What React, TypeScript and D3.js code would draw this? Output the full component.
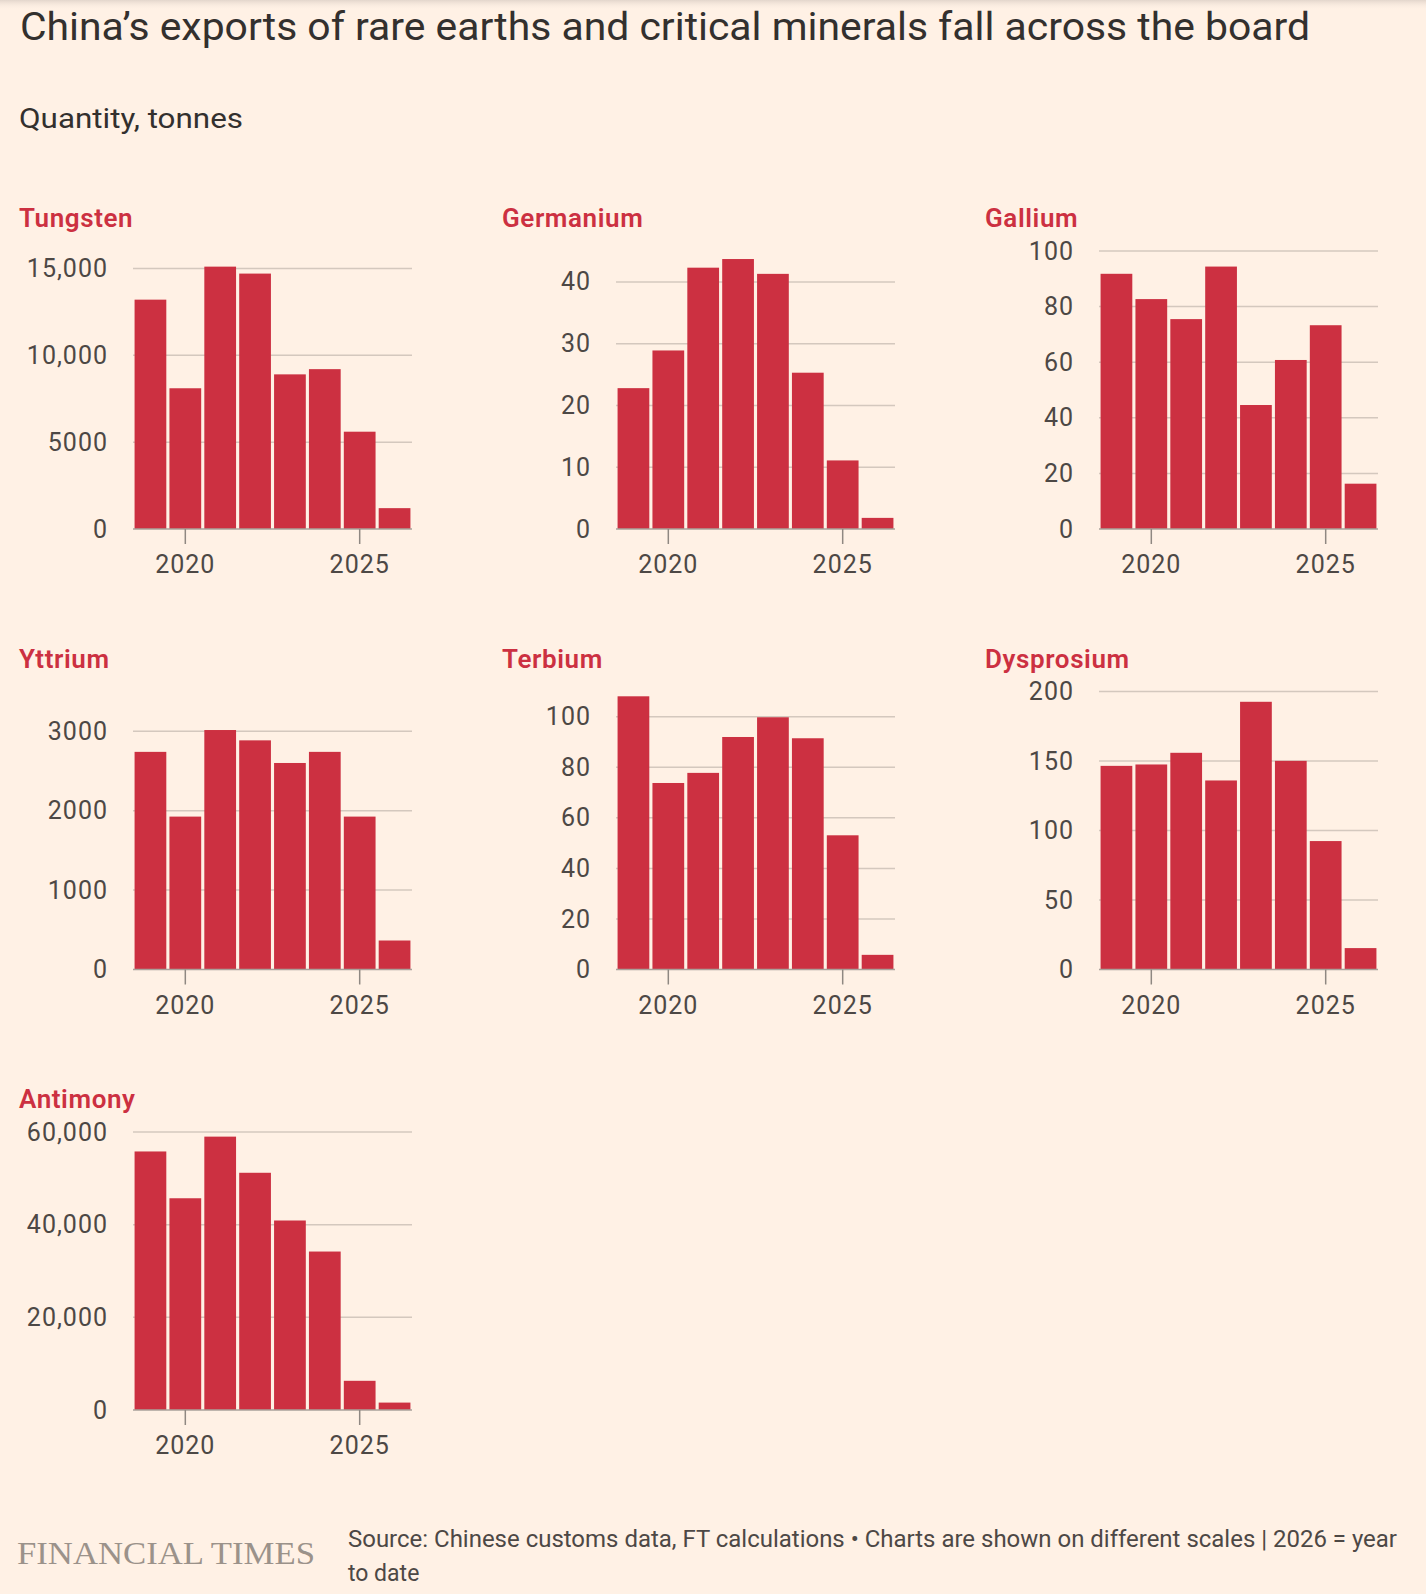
import * as d3 from 'd3';

// values, tonnes; 2026 = year to date
const years = [2019, 2020, 2021, 2022, 2023, 2024, 2025, 2026];
const yearTicks = [2020, 2025];

const tungsten = [13200, 8100, 15100, 14700, 8900, 9200, 5600, 1200];
const germanium = [22.8, 28.9, 42.3, 43.7, 41.3, 25.3, 11.1, 1.8];
const gallium = [91.8, 82.7, 75.5, 94.4, 44.6, 60.8, 73.3, 16.3];
const yttrium = [2740, 1925, 3015, 2885, 2600, 2740, 1925, 365];
const terbium = [108.1, 73.8, 77.8, 92.0, 99.8, 91.5, 53.1, 5.8];
const dysprosium = [146.5, 147.5, 155.9, 136, 192.6, 150.1, 92.4, 15.4];
const antimony = [55800, 45700, 59000, 51200, 40900, 34200, 6300, 1600];

const tungstenTicks = [0, 5000, 10000, 15000];
const germaniumTicks = [0, 10, 20, 30, 40];
const galliumTicks = [0, 20, 40, 60, 80, 100];
const yttriumTicks = [0, 1000, 2000, 3000];
const terbiumTicks = [0, 20, 40, 60, 80, 100];
const dysprosiumTicks = [0, 50, 100, 150, 200];
const antimonyTicks = [0, 20000, 40000, 60000];

const panels = [
  { name: 'Tungsten', values: tungsten, ticks: tungstenTicks, max: 16000 },
  { name: 'Germanium', values: germanium, ticks: germaniumTicks, max: 45 },
  { name: 'Gallium', values: gallium, ticks: galliumTicks, max: 100 },
  { name: 'Yttrium', values: yttrium, ticks: yttriumTicks, max: 3500 },
  { name: 'Terbium', values: terbium, ticks: terbiumTicks, max: 110 },
  { name: 'Dysprosium', values: dysprosium, ticks: dysprosiumTicks, max: 200 },
  { name: 'Antimony', values: antimony, ticks: antimonyTicks, max: 60000 },
];

const W = 1426;
const H = 1594;
const BG = '#fff1e5';
const RED = '#cc3041';
const TEXT = '#33302e';
const AXIS_TEXT = '#4d4845';
const FONT = "Roboto, 'Noto Sans', sans-serif";

const colStep = 483;
const rowStep = 440.5;
const plotLeft = 133;
const plotWidth = 279;
const plotHeight = 278;
const firstZero = 529;

const fmt = (v: number) => (v >= 10000 ? d3.format(',')(v) : String(v));

type PanelData = (typeof panels)[number];

const Panel = ({ p, i }: { p: PanelData; i: number }) => {
  const col = i % 3;
  const row = Math.floor(i / 3);
  const x0 = plotLeft + col * colStep;
  const zero = firstZero + row * rowStep;

  const x = d3
    .scaleBand<number>()
    .domain(years)
    .range([x0, x0 + plotWidth])
    .paddingInner(0.09)
    .paddingOuter(0.045);
  const y = d3.scaleLinear().domain([0, p.max]).range([zero, zero - plotHeight]);

  return (
    <g>
      <text
        x={19 + col * colStep}
        y={zero - 302}
        fill={RED}
        fontFamily={FONT}
        fontWeight={600}
        fontSize={26}
        letterSpacing={0.6}
      >
        {p.name}
      </text>

      {/* grid lines and y labels */}
      {p.ticks.map((t) => (
        <g key={t}>
          {t !== 0 && (
            <line
              x1={x0}
              x2={x0 + plotWidth}
              y1={y(t)}
              y2={y(t)}
              stroke='#d4c8be'
              strokeWidth={1.5}
            />
          )}
          <text
            x={x0 - 25}
            y={y(t) + 2}
            textAnchor='end'
            dominantBaseline='middle'
            fill={AXIS_TEXT}
            fontFamily={FONT}
            fontSize={25}
            letterSpacing={1}
          >
            {fmt(t)}
          </text>
        </g>
      ))}

      {years.map((yr, k) => (
        <rect
          key={yr}
          x={x(yr)}
          y={y(p.values[k])}
          width={x.bandwidth()}
          height={zero - y(p.values[k])}
          fill={RED}
        />
      ))}

      <line x1={x0} x2={x0 + plotWidth} y1={zero} y2={zero} stroke='#a9a09a' strokeWidth={1.5} />

      {yearTicks.map((yr) => {
        const cx = (x(yr) ?? 0) + x.bandwidth() / 2;
        return (
          <g key={yr}>
            <line x1={cx} x2={cx} y1={zero} y2={zero + 15} stroke='#8f8882' strokeWidth={1.5} />
            <text
              x={cx}
              y={zero + 44}
              textAnchor='middle'
              fill={AXIS_TEXT}
              fontFamily={FONT}
              fontSize={25}
              letterSpacing={1}
            >
              {yr}
            </text>
          </g>
        );
      })}
    </g>
  );
};

export default function App() {
  return (
    <svg
      width={W}
      height={H}
      style={{ position: 'absolute', left: 0, top: 0, display: 'block' }}
    >
      <defs>
        <linearGradient id='topShade' x1='0' x2='0' y1='0' y2='1'>
          <stop offset='0%' stopColor='#e3d6cc' />
          <stop offset='100%' stopColor={BG} stopOpacity={0} />
        </linearGradient>
      </defs>
      <rect width={W} height={H} fill={BG} />
      <rect width={W} height={10} fill='url(#topShade)' />

      <text
        x={20}
        y={40}
        fill={TEXT}
        fontFamily={FONT}
        fontSize={39}
        textLength={1290}
        lengthAdjust='spacingAndGlyphs'
      >
        China’s exports of rare earths and critical minerals fall across the board
      </text>
      <text
        x={19}
        y={128}
        fill={TEXT}
        fontFamily={FONT}
        fontSize={27}
        textLength={224}
        lengthAdjust='spacingAndGlyphs'
      >
        Quantity, tonnes
      </text>

      {panels.map((p, i) => (
        <Panel key={p.name} p={p} i={i} />
      ))}

      <text
        x={17}
        y={1564}
        fill='#9b928a'
        fontFamily="'Liberation Serif', 'DejaVu Serif', serif"
        fontSize={31}
        textLength={298}
        lengthAdjust='spacingAndGlyphs'
      >
        FINANCIAL TIMES
      </text>
      <text
        x={348}
        y={1547}
        fill={AXIS_TEXT}
        fontFamily={FONT}
        fontSize={23}
        textLength={1049}
        lengthAdjust='spacingAndGlyphs'
      >
        Source: Chinese customs data, FT calculations • Charts are shown on different scales | 2026 = year
      </text>
      <text x={348} y={1581} fill={AXIS_TEXT} fontFamily={FONT} fontSize={23}>
        to date
      </text>
    </svg>
  );
}
